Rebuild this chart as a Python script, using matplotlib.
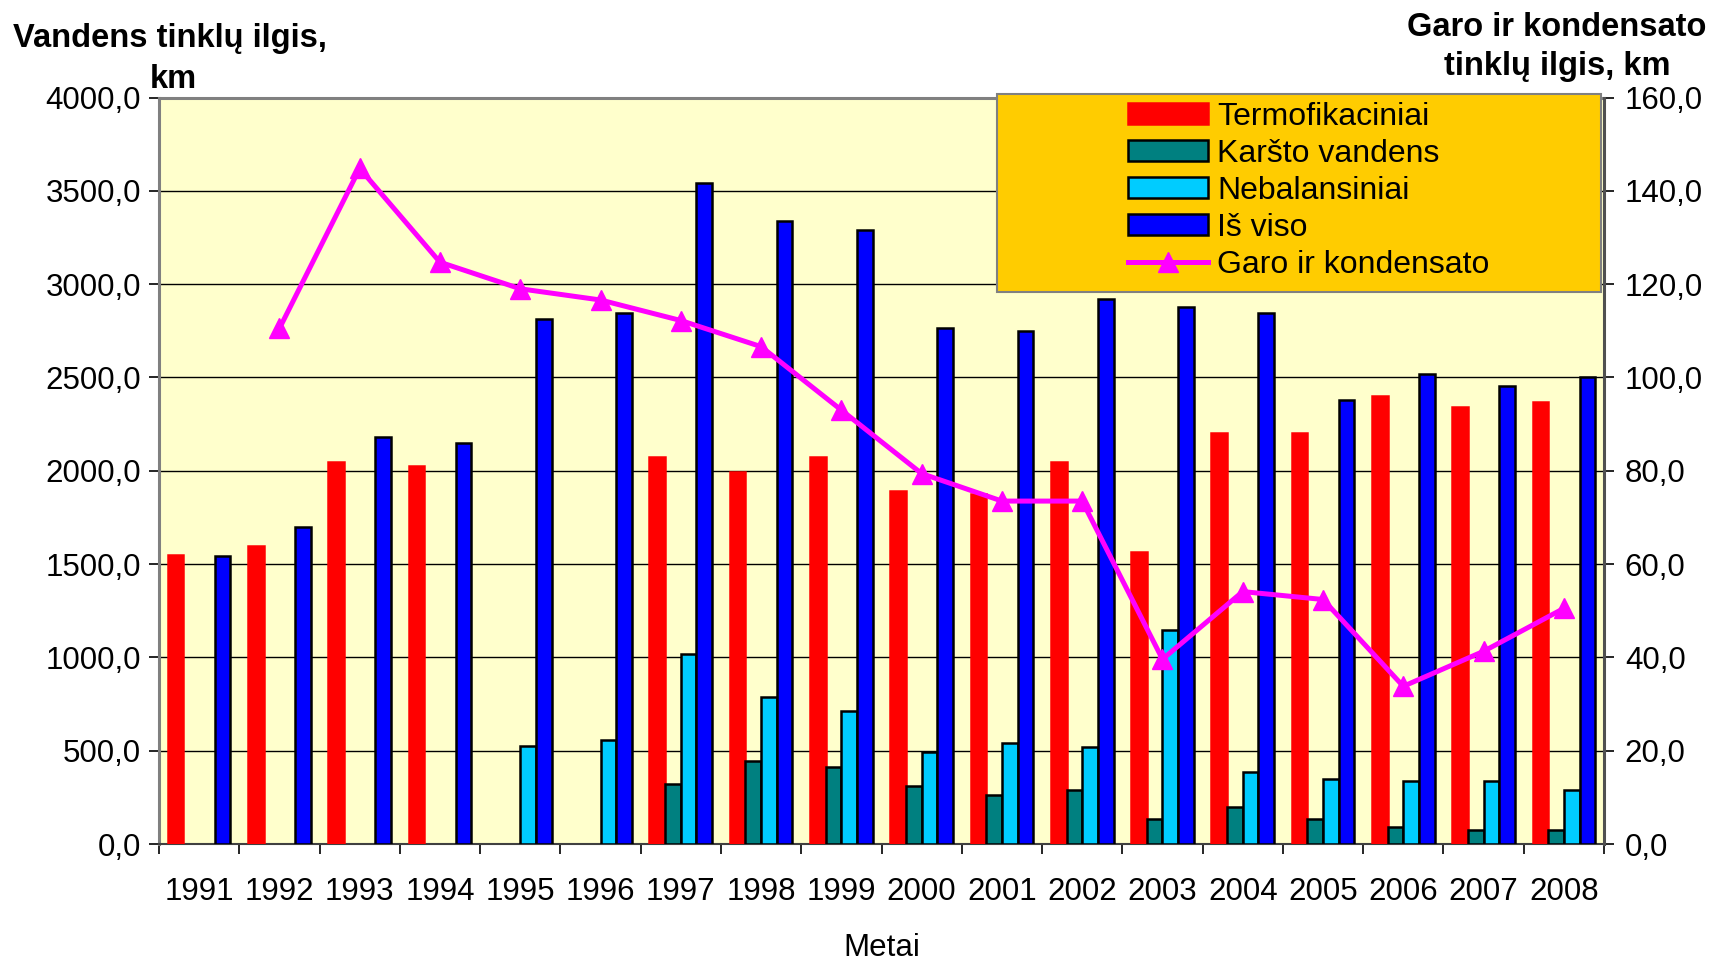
import numpy as np
import matplotlib
matplotlib.use('Agg')
import matplotlib.pyplot as plt
from matplotlib.patches import Patch, Rectangle
from matplotlib.lines import Line2D
from matplotlib.ticker import FuncFormatter, MultipleLocator, FixedLocator

nan = np.nan
years = [str(y) for y in range(1991, 2009)]
termofikaciniai = [1550, 1595, 2045, 2025, nan, nan, 2075, 1995, 2075, 1890,
                   1875, 2045, 1565, 2200, 2200, 2400, 2340, 2370]
karsto_vandens = [nan, nan, nan, nan, nan, nan, 320, 445, 415, 310,
                  260, 290, 135, 200, 135, 90, 75, 75]
nebalansiniai = [nan, nan, nan, nan, 525, 555, 1020, 785, 710, 495,
                 540, 520, 1145, 385, 350, 335, 335, 290]
is_viso = [1545, 1700, 2180, 2150, 2815, 2845, 3540, 3340, 3290, 2765,
           2750, 2920, 2875, 2845, 2380, 2520, 2455, 2500]
garo = [nan, 110.5, 144.8, 124.7, 119.0, 116.6, 112.2, 106.6, 93.0, 79.4,
        73.5, 73.5, 39.6, 54.1, 52.4, 33.8, 41.3, 50.5]

labels = ["Termofikaciniai", "Karšto vandens", "Nebalansiniai", "Iš viso",
          "Garo ir kondensato"]

plt.rcParams['font.family'] = ['Liberation Sans', 'DejaVu Sans']
FS = 22.5
TFS = 23.5

fig = plt.figure(figsize=(17.17, 9.64), dpi=100)
fig.patch.set_facecolor('white')
L, R, T, B = 159/1717, 1604/1717, 1-97.5/964, 1-844/964
ax = fig.add_axes([L, B, R-L, T-B])
ax.set_facecolor('#FFFFCC')

x = np.arange(len(years))
w = 0.195
series = [
    (termofikaciniai, '#FF0000', '#FF0000'),
    (karsto_vandens, '#008080', 'black'),
    (nebalansiniai, '#00CCFF', 'black'),
    (is_viso, '#0000FF', 'black'),
]
for i, (vals, fc, ec) in enumerate(series):
    v = np.array(vals, dtype=float)
    m = np.isfinite(v)
    ax.bar(x[m] + (i - 1.5) * w, v[m], width=w, color=fc, edgecolor=ec,
           linewidth=1.8, zorder=3)

ax.set_xlim(-0.5, len(years) - 0.5)
ax.set_ylim(0, 4000)
ax.yaxis.set_major_locator(MultipleLocator(500))
ax.yaxis.set_major_formatter(FuncFormatter(lambda v, p: f"{v:.1f}".replace('.', ',')))
ax.grid(axis='y', color='black', linewidth=1.0, zorder=1)
ax.set_axisbelow(True)

ax.xaxis.set_major_locator(FixedLocator(np.arange(-0.5, len(years), 1.0)))
ax.xaxis.set_major_formatter(FuncFormatter(lambda v, p: ''))
ax.xaxis.set_minor_locator(FixedLocator(x))
ax.set_xticklabels(years, minor=True)
ax.tick_params(axis='x', which='major', length=7, width=1.2, direction='out')
ax.tick_params(axis='x', which='minor', length=0, pad=24, labelsize=FS)
ax.tick_params(axis='y', length=7, width=1.2, direction='out', labelsize=FS, pad=6)

fig.text(882/1717, 1-948/964, "Metai", fontsize=FS, ha='center', va='center')

for s in ['left', 'top']:
    ax.spines[s].set_color('#808080')
    ax.spines[s].set_linewidth(2.2)
ax.spines['bottom'].set_color('#404040')
ax.spines['bottom'].set_linewidth(1.5)
ax.spines['right'].set_visible(False)

ax2 = ax.twinx()
g = np.array(garo, dtype=float)
ax2.plot(x, g, color='#FF00FF', linewidth=3.6, marker='^', markersize=14,
         zorder=5, clip_on=False)
ax2.set_ylim(0, 160)
ax2.yaxis.set_major_locator(MultipleLocator(20))
ax2.yaxis.set_major_formatter(FuncFormatter(lambda v, p: f"{v:.1f}".replace('.', ',')))
ax2.tick_params(axis='y', length=7, width=1.2, direction='out', labelsize=FS, pad=8)
ax2.spines['right'].set_color('#505050')
ax2.spines['right'].set_linewidth(2.2)
for s in ['left', 'top', 'bottom']:
    ax2.spines[s].set_visible(False)

# Axis titles
fig.text(13/1717, 1-38/964, "Vandens tinklų ilgis,", fontsize=TFS, fontweight='bold',
         ha='left', va='center')
fig.text(150/1717, 1-80/964, "km", fontsize=TFS, fontweight='bold',
         ha='left', va='center')
fig.text(1557/1717, 1-27/964, "Garo ir kondensato", fontsize=TFS, fontweight='bold',
         ha='center', va='center')
fig.text(1557/1717, 1-67/964, "tinklų ilgis, km", fontsize=TFS, fontweight='bold',
         ha='center', va='center')

# Legend box
lx0, ly0, lx1, ly1 = 997, 94, 1601, 292
box = Rectangle((lx0/1717, 1-ly1/964), (lx1-lx0)/1717, (ly1-ly0)/964,
                transform=fig.transFigure, facecolor='#FFCC00', edgecolor='#808080',
                linewidth=1.5, zorder=10)
fig.add_artist(box)
handles = [
    Patch(facecolor='#FF0000', edgecolor='#FF0000', linewidth=1.8),
    Patch(facecolor='#008080', edgecolor='black', linewidth=1.8),
    Patch(facecolor='#00CCFF', edgecolor='black', linewidth=1.8),
    Patch(facecolor='#0000FF', edgecolor='black', linewidth=1.8),
    Line2D([], [], color='#FF00FF', linewidth=3.6, marker='^', markersize=14),
]
leg = fig.legend(handles, labels, loc='upper left',
                 bbox_to_anchor=(1128/1717, 1-102/964), frameon=False,
                 fontsize=23, handlelength=2.5, handleheight=0.62,
                 handletextpad=0.3, labelspacing=0.22, borderpad=0, borderaxespad=0)
leg.set_zorder(11)

fig.savefig('out.png', dpi=100)
